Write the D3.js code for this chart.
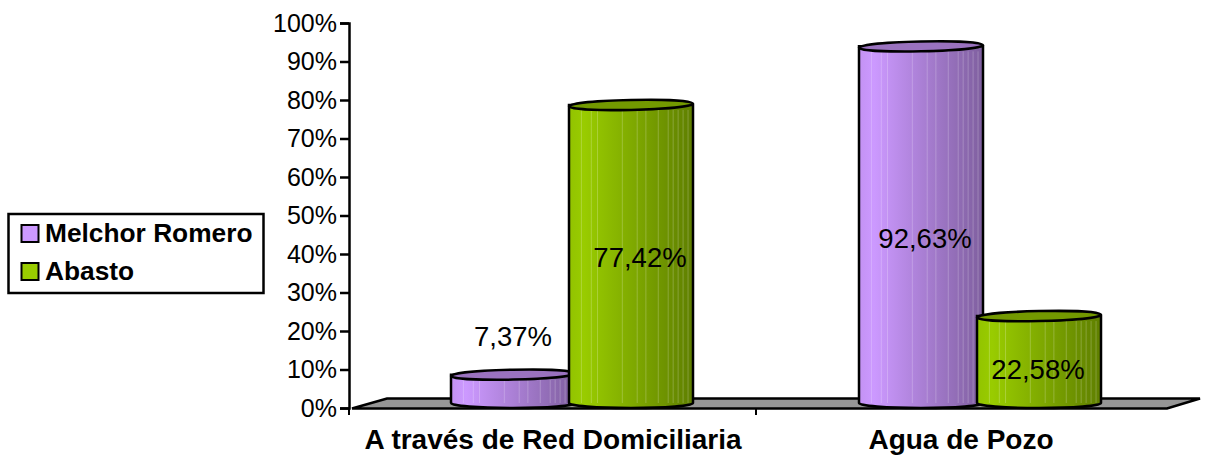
<!DOCTYPE html>
<html>
<head>
<meta charset="utf-8">
<script src="https://cdn.jsdelivr.net/npm/d3@7"></script>
<style>
  html, body { margin: 0; padding: 0; background: #fff; }
  svg { display: block; }
  text { font-family: "Liberation Sans", Arial, sans-serif; fill: #000; }
</style>
</head>
<body>
<svg id="chart" width="1216" height="455"></svg>
<script>
var categories = ["A través de Red Domiciliaria", "Agua de Pozo"];
var seriesNames = ["Melchor Romero", "Abasto"];
var melchorRomero = [7.37, 92.63];
var abasto = [77.42, 22.58];
var yTicks = [0, 10, 20, 30, 40, 50, 60, 70, 80, 90, 100];

function fmt(v) {
  return v.toFixed(2).replace(".", ",") + "%";
}

var svg = d3.select("#chart");
var defs = svg.append("defs");

var x0 = 349, x1 = 1165, y0 = 408, y1 = 23;
var depthY = 10;

var xScale = d3.scaleBand().domain(categories).range([x0, x1]);
var xInner = d3.scaleBand().domain(seriesNames).range([-118, 118]);
var yScale = d3.scaleLinear().domain([0, 100]).range([y0, y1]);

var colors = {
  "Melchor Romero": { swatch: "#cc99ff", light: "#cc99ff", dark: "#7f5f9f", top: "#9a72bf" },
  "Abasto": { swatch: "#99cc00", light: "#99cc00", dark: "#5f7f00", top: "#739900" }
};

seriesNames.forEach(function(name, i) {
  var grad = defs.append("linearGradient").attr("id", "grad" + i);
  grad.append("stop").attr("offset", "0%").attr("stop-color", d3.interpolateRgb(colors[name].light, colors[name].dark)(0.12));
  grad.append("stop").attr("offset", "12%").attr("stop-color", colors[name].light);
  grad.append("stop").attr("offset", "100%").attr("stop-color", colors[name].dark);
});

// floor
var floorY = y0 + 0.5;
svg.append("path")
  .attr("d", d3.line()([
    [x0 + 3, floorY], [x0 + 38, floorY - depthY], [x1 + 35, floorY - depthY], [x1 + 2, floorY]
  ]) + "Z")
  .attr("fill", "#969696")
  .attr("stroke", "#000")
  .attr("stroke-width", 2.5);

// axes
var yAxis = d3.axisLeft(yScale)
  .tickValues(yTicks)
  .tickSize(9)
  .tickPadding(3)
  .tickFormat(function(d) { return d + "%"; });

var yG = svg.append("g").attr("transform", "translate(" + x0 + ",0)").call(yAxis);
yG.selectAll("path,line").attr("stroke", "#000").attr("stroke-width", 2.5);
yG.selectAll("text").attr("font-size", 25).attr("fill", "#000");

var xAxis = d3.axisBottom(xScale).tickSize(0).tickPadding(20);
var xG = svg.append("g").attr("transform", "translate(0," + (y0 + 1) + ")").call(xAxis);
xG.select(".domain").remove();
xG.selectAll("text").attr("font-size", 28).attr("font-weight", "bold").attr("fill", "#000");

// short ticks under the floor, one at each category start
xScale.domain().forEach(function(c, i) {
  var tx = i === 0 ? xScale(c) : xScale(c) - 1;
  svg.append("line")
    .attr("x1", tx).attr("x2", tx)
    .attr("y1", y0).attr("y2", y0 + 7)
    .attr("stroke", "#000").attr("stroke-width", 2);
});

// cylinders
var cylW = 124, rx = cylW / 2, ry = 5, baseShift = 5;
var streaks = [0.1, 0.18, 0.23, 0.43, 0.55, 0.62, 0.72, 0.8, 0.84, 0.88, 0.92, 0.96];
var rows = [];
categories.forEach(function(c, ci) {
  rows.push({ cat: c, name: seriesNames[0], s: 0, value: melchorRomero[ci] });
  rows.push({ cat: c, name: seriesNames[1], s: 1, value: abasto[ci] });
});

function cx(d) {
  return xScale(d.cat) + xScale.bandwidth() / 2 + 19 + xInner(d.name) + xInner.bandwidth() / 2;
}

var cyl = svg.selectAll(".cyl")
  .data(rows)
  .enter()
  .append("g")
  .attr("class", "cyl");

cyl.append("path")
  .attr("d", function(d) {
    var c = cx(d), top = yScale(d.value) - baseShift, bot = y0 - baseShift;
    return "M" + (c - rx) + "," + top +
      "L" + (c - rx) + "," + bot +
      "A" + rx + "," + ry + " 0 0 0 " + (c + rx) + "," + bot +
      "L" + (c + rx) + "," + top + "Z";
  })
  .attr("fill", function(d) { return "url(#grad" + d.s + ")"; })
  .attr("stroke", "#000")
  .attr("stroke-width", 2.5);

cyl.each(function(d) {
  var c = cx(d), top = yScale(d.value) - baseShift, bot = y0 - baseShift;
  d3.select(this).selectAll(".streak")
    .data(streaks)
    .enter()
    .append("line")
    .attr("class", "streak")
    .attr("x1", function(f) { return c - rx + f * cylW; })
    .attr("x2", function(f) { return c - rx + f * cylW; })
    .attr("y1", top + ry)
    .attr("y2", bot)
    .attr("stroke", "#fff")
    .attr("stroke-opacity", 0.22)
    .attr("stroke-width", 1);
});

// the cap leans slightly in the original
cyl.append("ellipse")
  .attr("cx", cx)
  .attr("cy", function(d) { return yScale(d.value) - baseShift; })
  .attr("rx", rx)
  .attr("ry", ry)
  .attr("transform", function(d) {
    return "rotate(-1.2," + cx(d) + "," + (yScale(d.value) - baseShift) + ")";
  })
  .attr("fill", function(d) { return colors[d.name].top; })
  .attr("stroke", "#000")
  .attr("stroke-width", 2.5);

// value labels: the small bar's label sits above it, the rest inside
svg.selectAll(".val")
  .data(rows)
  .enter()
  .append("text")
  .attr("class", "val")
  .attr("text-anchor", "middle")
  .attr("font-size", 27.5)
  .attr("x", function(d) { return cx(d) + (d.value > 90 ? 4 : d.value > 70 ? 9 : d.value > 10 ? -1 : 0); })
  .attr("y", function(d) {
    if (d.value < 10) return yScale(d.value) - 34;
    if (d.value > 90) return yScale(d.value / 2) - baseShift + 23;
    if (d.value > 70) return yScale(d.value / 2) - baseShift + 13;
    return yScale(d.value / 2) - baseShift + 19;
  })
  .text(function(d) { return fmt(d.value); });

// legend
var legend = svg.append("g");
legend.append("rect")
  .attr("x", 8.5).attr("y", 214).attr("width", 255).attr("height", 79)
  .attr("fill", "#fff").attr("stroke", "#000").attr("stroke-width", 2.5);

var legendRow = legend.selectAll(".row")
  .data(seriesNames)
  .enter()
  .append("g")
  .attr("class", "row")
  .attr("transform", function(d, i) { return "translate(0," + (i * 38) + ")"; });

legendRow.append("rect")
  .attr("x", 21.5).attr("y", 225).attr("width", 17).attr("height", 17)
  .attr("fill", function(d) { return colors[d].swatch; })
  .attr("stroke", "#000").attr("stroke-width", 2);

legendRow.append("text")
  .attr("x", 45).attr("y", 242)
  .attr("font-size", 26.3)
  .attr("font-weight", "bold")
  .text(function(d) { return d; });
</script>
</body>
</html>
